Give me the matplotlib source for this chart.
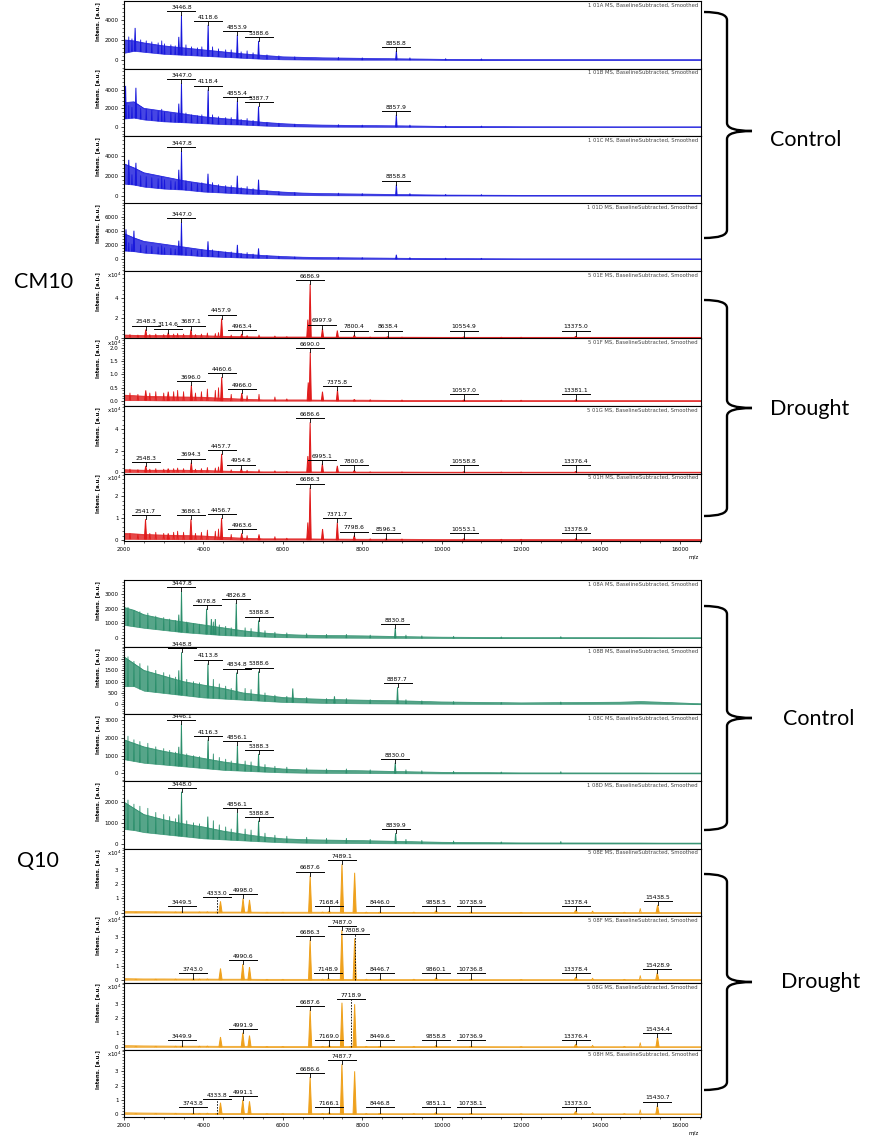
import numpy as np
import matplotlib.pyplot as plt
from matplotlib.path import Path
from matplotlib.patches import PathPatch
from matplotlib.ticker import AutoMinorLocator, MultipleLocator

W, H = 877, 1141
MZ_MIN, MZ_MAX = 2000, 16530

# ---- data -------------------------------------------------------------
env_mz = [2000, 2250, 2500, 3000, 3500, 4000, 4500, 5000, 5500, 6000,
          6500, 7000, 8000, 9000, 10000, 12000, 14500, 15000, 15500, 16530]

# CM10 control (blue)
cm10_ctrl_tags = ["1 01A", "1 01B", "1 01C", "1 01D"]
cm10_ctrl_ylim = [(-870, 5900), (-970, 6270), (-800, 6000), (-1700, 7860)]
cm10_ctrl_yticks = [[0, 2000, 4000], [0, 2000, 4000], [0, 2000, 4000], [0, 2000, 4000, 6000]]
cm10_ctrl_lo = [
    [700, 900, 800, 600, 500, 400, 300, 200, 100, 50, 30, 20, 10, 10, 0, 0, 0, 0, 0, 0],
    [900, 1000, 800, 600, 500, 400, 300, 250, 150, 80, 50, 30, 20, 10, 0, 0, 0, 0, 0, 0],
    [1200, 1100, 900, 700, 600, 400, 300, 200, 150, 80, 50, 30, 20, 10, 0, 0, 0, 0, 0, 0],
    [1200, 1100, 900, 700, 600, 400, 300, 200, 150, 80, 50, 30, 20, 10, 0, 0, 0, 0, 0, 0],
]
cm10_ctrl_hi = [
    [2000, 1900, 1700, 1400, 1200, 1000, 800, 600, 450, 300, 250, 200, 150, 100, 50, 20, 15, 15, 15, 15],
    [2600, 2700, 2000, 1700, 1400, 1100, 900, 700, 500, 350, 250, 200, 150, 120, 60, 25, 15, 15, 15, 15],
    [3200, 2800, 2300, 1900, 1500, 1200, 900, 700, 500, 350, 250, 200, 150, 100, 50, 20, 15, 15, 15, 15],
    [3600, 3000, 2500, 2100, 1700, 1300, 1000, 700, 500, 350, 250, 200, 150, 100, 60, 25, 20, 20, 20, 20],
]
cm10_ctrl_minor = [(2120, 2300), (2200, 2100), (2420, 2000), (2560, 1900), (2700, 1800), (2860, 1700),
                   (2950, 1900), (3020, 1600), (3180, 1500), (3290, 1400), (3560, 1500), (3700, 1300),
                   (3850, 1200), (3960, 1300), (4230, 1300), (4380, 1100), (4560, 1000), (4700, 1000),
                   (4950, 800), (5100, 900), (5250, 700), (5600, 500), (5900, 400), (6300, 300),
                   (7400, 250), (8000, 200), (9200, 200), (10100, 120), (11000, 100)]
p_101A = [(2280, 3200, None), (3380, 2300, None), (3446.8, 4500, "3446.8"), (4118.6, 3500, "4118.6"),
          (4853.9, 2500, "4853.9"), (5388.6, 1900, "5388.6"), (8858.8, 900, "8858.8")]
p_101B = [(2040, 4400, None), (2300, 4200, None), (3380, 2500, None), (3447.0, 4700, "3447.0"),
          (4118.4, 4000, "4118.4"), (4855.4, 2800, "4855.4"), (5387.7, 2200, "5387.7"), (8857.9, 1300, "8857.9")]
p_101C = [(2120, 3600, None), (2300, 3300, None), (3380, 2600, None), (3447.8, 4500, "3447.8"),
          (4115, 2200, None), (4853, 2000, None), (5388, 1600, None), (8858.8, 1100, "8858.8")]
p_101D = [(2050, 4200, None), (2250, 4000, None), (3380, 2600, None), (3447.0, 5200, "3447.0"),
          (4115, 2500, None), (4855, 2000, None), (5388, 1500, None), (8858, 600, None)]
cm10_ctrl_peaks = [p_101A, p_101B, p_101C, p_101D]

# CM10 drought (red), x10^4
cm10_dr_tags = ["5 01E", "5 01F", "5 01G", "5 01H"]
cm10_dr_ylim = [(-0.1, 6.7), (-0.19, 2.36), (-0.1, 6.1), (-0.05, 3.05)]
cm10_dr_yticks = [[0, 2, 4], [0, 0.5, 1.0, 1.5, 2.0], [0, 2, 4], [0, 1, 2]]
cm10_dr_lo = [
    [0.04, 0.04, 0.03, 0.03, 0.03, 0.02, 0.02, 0.01, 0.01, 0.01, 0.01, 0.01, 0, 0, 0, 0, 0, 0, 0, 0],
    [0.03, 0.03, 0.03, 0.02, 0.02, 0.02, 0.01, 0.01, 0.01, 0.01, 0.01, 0.01, 0, 0, 0, 0, 0, 0, 0, 0],
    [0.04, 0.04, 0.03, 0.03, 0.03, 0.02, 0.02, 0.01, 0.01, 0.01, 0.01, 0.01, 0, 0, 0, 0, 0, 0, 0, 0],
    [0.05, 0.05, 0.04, 0.04, 0.03, 0.03, 0.02, 0.01, 0.01, 0.01, 0.01, 0.01, 0, 0, 0, 0, 0, 0, 0, 0],
]
cm10_dr_hi = [
    [0.25, 0.22, 0.2, 0.2, 0.2, 0.18, 0.12, 0.08, 0.05, 0.05, 0.05, 0.04, 0.03, 0.03, 0.02, 0.02, 0.02, 0.02, 0.02, 0.02],
    [0.22, 0.2, 0.18, 0.16, 0.15, 0.14, 0.1, 0.07, 0.04, 0.04, 0.04, 0.03, 0.03, 0.02, 0.02, 0.015, 0.015, 0.015, 0.015, 0.015],
    [0.25, 0.22, 0.2, 0.2, 0.2, 0.18, 0.12, 0.08, 0.05, 0.05, 0.05, 0.04, 0.03, 0.03, 0.02, 0.02, 0.02, 0.02, 0.02, 0.02],
    [0.3, 0.28, 0.25, 0.22, 0.2, 0.18, 0.12, 0.08, 0.05, 0.05, 0.05, 0.04, 0.03, 0.03, 0.02, 0.02, 0.02, 0.02, 0.02, 0.02],
]
cm10_dr_minor = [(2150, 0.3), (2350, 0.25), (2650, 0.3), (2800, 0.35), (3000, 0.3), (3250, 0.35),
                 (3350, 0.4), (3500, 0.35), (3800, 0.3), (3950, 0.35), (4100, 0.45), (4300, 0.4),
                 (4380, 0.5), (4700, 0.25), (5100, 0.2), (5400, 0.25), (5800, 0.15), (6100, 0.08),
                 (8200, 0.05), (9000, 0.04), (11500, 0.03), (12000, 0.03)]
p_501E = [(2548.3, 0.8, "2548.3"), (3114.6, 0.5, "3114.6"), (3687.1, 0.8, "3687.1"), (4457.9, 1.9, "4457.9"),
          (4963.4, 0.35, "4963.4"), (6630, 1.8, None), (6686.9, 5.4, "6686.9"), (6997.9, 0.9, "6997.9"),
          (7372, 0.7, None), (7800.4, 0.25, "7800.4"), (8638.4, 0.08, "8638.4"), (10554.9, 0.05, "10554.9"),
          (13375.0, 0.12, "13375.0")]
p_501F = [(2548, 0.4, None), (3114, 0.35, None), (3696.0, 0.6, "3696.0"), (4460.6, 0.9, "4460.6"),
          (4966.0, 0.3, "4966.0"), (6640, 0.7, None), (6690.0, 1.85, "6690.0"), (6998, 0.35, None),
          (7375.8, 0.42, "7375.8"), (7800, 0.06, None), (10557.0, 0.04, "10557.0"), (13381.1, 0.05, "13381.1")]
p_501G = [(2548.3, 0.6, "2548.3"), (3114, 0.35, None), (3694.3, 0.9, "3694.3"), (4457.7, 1.7, "4457.7"),
          (4954.8, 0.35, "4954.8"), (6630, 1.5, None), (6686.6, 4.6, "6686.6"), (6995.1, 0.8, "6995.1"),
          (7372, 0.6, None), (7800.6, 0.2, "7800.6"), (10558.8, 0.05, "10558.8"), (13376.4, 0.08, "13376.4")]
p_501H = [(2541.7, 0.95, "2541.7"), (3114, 0.3, None), (3686.1, 0.95, "3686.1"), (4456.7, 1.0, "4456.7"),
          (4963.6, 0.3, "4963.6"), (5400, 0.2, None), (6630, 0.8, None), (6686.3, 2.4, "6686.3"),
          (7000, 0.5, None), (7371.7, 0.8, "7371.7"), (7798.6, 0.2, "7798.6"), (8596.3, 0.05, "8596.3"),
          (10553.1, 0.05, "10553.1"), (13378.9, 0.06, "13378.9")]
cm10_dr_peaks = [p_501E, p_501F, p_501G, p_501H]

# Q10 control (green)
q10_ctrl_tags = ["1 08A", "1 08B", "1 08C", "1 08D"]
q10_ctrl_ylim = [(-620, 3970), (-444, 2530), (-450, 3340), (-240, 3000)]
q10_ctrl_yticks = [[0, 1000, 2000, 3000], [0, 500, 1000, 1500, 2000], [0, 1000, 2000, 3000], [0, 1000, 2000]]
q10_ctrl_lo = [
    [900, 800, 700, 550, 400, 300, 200, 150, 100, 60, 40, 30, 20, 10, 0, 0, 0, 0, 0, 0],
    [800, 800, 600, 500, 400, 300, 250, 200, 150, 100, 80, 60, 40, 30, 20, 10, 20, 30, 20, 0],
    [800, 700, 600, 500, 400, 300, 200, 150, 100, 60, 40, 30, 20, 10, 0, 0, 0, 0, 0, 0],
    [700, 650, 550, 450, 350, 250, 200, 150, 100, 60, 40, 30, 20, 10, 0, 0, 0, 0, 0, 0],
]
q10_ctrl_hi = [
    [2100, 1900, 1600, 1300, 1100, 900, 700, 500, 350, 250, 200, 180, 150, 100, 60, 30, 25, 25, 20, 20],
    [2100, 1800, 1500, 1250, 1000, 850, 700, 500, 400, 300, 250, 220, 180, 150, 100, 60, 90, 120, 90, 20],
    [1900, 1700, 1500, 1250, 1050, 850, 650, 500, 350, 250, 200, 180, 150, 100, 60, 30, 25, 25, 20, 20],
    [2000, 1700, 1400, 1150, 950, 800, 600, 450, 320, 230, 190, 170, 140, 100, 60, 30, 25, 25, 20, 20],
]
q10_ctrl_minor = [(2100, 2100), (2250, 1900), (2400, 1800), (2600, 1700), (2800, 1500), (3000, 1400),
                  (3150, 1300), (3300, 1200), (3580, 1100), (3750, 1000), (3900, 950), (4250, 1100),
                  (4400, 900), (4560, 800), (4700, 700), (5050, 700), (5200, 650), (5550, 500),
                  (5800, 400), (6100, 350), (6600, 300), (7100, 250), (7600, 250), (8200, 200),
                  (9100, 200), (9500, 150), (10300, 120), (11500, 80), (13000, 100)]
p_108A = [(3380, 1600, None), (3447.8, 3200, "3447.8"), (3600, 1000, None), (4078.8, 2000, "4078.8"),
          (4200, 1300, None), (4300, 1300, None), (4826.8, 2400, "4826.8"), (5388.8, 1200, "5388.8"),
          (8830.8, 700, "8830.8")]
p_108B = [(3380, 1500, None), (3448.8, 2300, "3448.8"), (4113.8, 1800, "4113.8"), (4834.8, 1400, "4834.8"),
          (5388.6, 1450, "5388.6"), (6250, 700, None), (7300, 350, None), (8887.7, 750, "8887.7")]
p_108C = [(3380, 1500, None), (3446.1, 2800, "3446.1"), (4116.3, 1900, "4116.3"), (4856.1, 1600, "4856.1"),
          (5388.3, 1100, "5388.3"), (8830.0, 600, "8830.0")]
p_108D = [(3380, 1400, None), (3448.0, 2500, "3448.0"), (4110, 1300, None), (4856.1, 1500, "4856.1"),
          (5388.8, 1100, "5388.8"), (8839.9, 500, "8839.9")]
q10_ctrl_peaks = [p_108A, p_108B, p_108C, p_108D]

# Q10 drought (orange), x10^4
q10_dr_tags = ["5 08E", "5 08F", "5 08G", "5 08H"]
q10_dr_ylim = [(-0.2, 4.5), (-0.2, 4.5), (-0.2, 4.5), (-0.2, 4.5)]
q10_dr_yticks = [[0, 1, 2, 3], [0, 1, 2, 3], [0, 1, 2, 3], [0, 1, 2, 3]]
q10_dr_lo = [
    [0.01, 0.01, 0.01, 0.01, 0.01, 0.01, 0.01, 0.01, 0, 0, 0, 0, 0, 0, 0, 0, 0, 0, 0, 0],
    [0.01, 0.01, 0.01, 0.01, 0.01, 0.01, 0.01, 0.01, 0, 0, 0, 0, 0, 0, 0, 0, 0, 0, 0, 0],
    [0.01, 0.01, 0.01, 0.01, 0.01, 0.01, 0.01, 0.01, 0, 0, 0, 0, 0, 0, 0, 0, 0, 0, 0, 0],
    [0.01, 0.01, 0.01, 0.01, 0.01, 0.01, 0.01, 0.01, 0, 0, 0, 0, 0, 0, 0, 0, 0, 0, 0, 0],
]
q10_dr_hi = [
    [0.1, 0.09, 0.08, 0.07, 0.06, 0.06, 0.05, 0.05, 0.04, 0.04, 0.04, 0.04, 0.03, 0.03, 0.03, 0.02, 0.02, 0.02, 0.02, 0.02],
    [0.09, 0.08, 0.07, 0.07, 0.06, 0.06, 0.05, 0.05, 0.04, 0.04, 0.04, 0.04, 0.03, 0.03, 0.03, 0.02, 0.02, 0.02, 0.02, 0.02],
    [0.1, 0.09, 0.08, 0.07, 0.06, 0.06, 0.05, 0.05, 0.04, 0.04, 0.04, 0.04, 0.03, 0.03, 0.03, 0.02, 0.02, 0.02, 0.02, 0.02],
    [0.1, 0.09, 0.08, 0.07, 0.06, 0.06, 0.05, 0.05, 0.04, 0.04, 0.04, 0.04, 0.03, 0.03, 0.03, 0.02, 0.02, 0.02, 0.02, 0.02],
]
q10_dr_minor = [(2300, 0.05), (2800, 0.05), (3300, 0.06), (3900, 0.06), (4100, 0.07), (5600, 0.04),
                (6000, 0.04), (7000, 0.05), (8100, 0.05), (9300, 0.05), (12000, 0.03), (13800, 0.12),
                (14600, 0.04), (15000, 0.3)]
p_508E = [(3449.5, 0.05, "3449.5"), (4333.0, 0.05, "4333.0", True), (4430, 0.8, None), (4998.0, 1.0, "4998.0"),
          (5160, 0.9, None), (6687.6, 2.6, "6687.6"), (7168.4, 0.1, "7168.4"), (7489.1, 3.4, "7489.1"),
          (7808, 2.8, None), (8446.0, 0.05, "8446.0"), (9858.5, 0.15, "9858.5"), (10738.9, 0.05, "10738.9"),
          (13378.4, 0.2, "13378.4"), (15438.5, 0.55, "15438.5")]
p_508F = [(3743.0, 0.05, "3743.0"), (4430, 0.8, None), (4990.6, 1.1, "4990.6"), (5160, 0.9, None),
          (6686.3, 2.8, "6686.3"), (7148.9, 0.1, "7148.9"), (7487.0, 3.5, "7487.0"), (7808.9, 2.9, "7808.9", True),
          (8446.7, 0.05, "8446.7"), (9860.1, 0.15, "9860.1"), (10736.8, 0.05, "10736.8"),
          (13378.4, 0.2, "13378.4"), (15428.9, 0.5, "15428.9")]
p_508G = [(3449.9, 0.05, "3449.9"), (4430, 0.7, None), (4991.9, 1.0, "4991.9"), (5160, 0.8, None),
          (6687.6, 2.6, "6687.6"), (7169.0, 0.1, "7169.0"), (7489, 3.1, None), (7718.9, 0.05, "7718.9", True),
          (7808, 3.0, None), (8449.6, 0.05, "8449.6"), (9858.8, 0.1, "9858.8"), (10736.9, 0.05, "10736.9"),
          (13376.4, 0.2, "13376.4"), (15434.4, 0.7, "15434.4")]
p_508H = [(3743.8, 0.05, "3743.8"), (4333.8, 0.05, "4333.8", True), (4430, 0.8, None), (4991.1, 1.0, "4991.1"),
          (5160, 0.9, None), (6686.6, 2.6, "6686.6"), (7166.1, 0.1, "7166.1"), (7487.7, 3.5, "7487.7"),
          (7808, 3.0, None), (8446.8, 0.05, "8446.8"), (9851.1, 0.1, "9851.1"), (10738.1, 0.05, "10738.1"),
          (13373.0, 0.2, "13373.0"), (15430.7, 0.6, "15430.7")]
q10_dr_peaks = [p_508E, p_508F, p_508G, p_508H]

# ---- drawing ------------------------------------------------------------
AX_L, AX_R = 124, 701
AX_W = AX_R - AX_L
BLOCKS = [(1, 541), (580, 1117)]

fig = plt.figure(figsize=(W / 100, H / 100), dpi=100)


def draw_panel(ax, tag, ylim, yticks, lo, hi, minor, peaks, color, hw, x10, panel_h):
    ax.set_xlim(MZ_MIN, MZ_MAX)
    ax.set_ylim(*ylim)
    upx = (ylim[1] - ylim[0]) / panel_h
    xpx = (MZ_MAX - MZ_MIN) / AX_W

    # noise band, then the spikes on top of it
    ax.fill_between(env_mz, lo, hi, color=color, lw=0.5, alpha=0.8)
    ax.plot(env_mz, hi, color=color, lw=0.5)
    for mz, h in minor:
        b = np.interp(mz, env_mz, lo)
        ax.plot([mz - hw * 0.6, mz, mz + hw * 0.6], [b, h, b], color=color, lw=0.6)
    for p in peaks:
        mz, h = p[0], p[1]
        b = np.interp(mz, env_mz, lo)
        ax.fill([mz - hw, mz, mz + hw], [b, h, b], color=color, lw=0.7)

    # peak labels
    for p in peaks:
        mz, h, lab = p[0], p[1], p[2]
        if lab is None:
            continue
        dashed = len(p) > 3 and p[3]
        win = 250 if dashed else 60
        top = max(q[1] for q in peaks if abs(q[0] - mz) <= win)
        ybar = max(top + 4 * upx, 7 * upx)
        ax.plot([mz, mz], [0 if dashed else h, ybar], color='k', lw=0.6,
                ls=(0, (2, 1.5)) if dashed else '-')
        ax.plot([mz - 14 * xpx, mz + 14 * xpx], [ybar, ybar], color='k', lw=0.7)
        ax.text(mz, ybar + 1.2 * upx, lab, ha='center', va='bottom', fontsize=4.3)

    ax.text(0.995, 0.975, tag + " MS, BaselineSubtracted, Smoothed", transform=ax.transAxes,
            ha='right', va='top', fontsize=3.8, color='#444444')

    ax.set_yticks(yticks)
    if any(t != int(t) for t in yticks):
        ax.set_yticklabels(["%.1f" % t for t in yticks])
    else:
        ax.set_yticklabels([str(int(t)) for t in yticks])
    ax.yaxis.set_minor_locator(AutoMinorLocator(5))
    ax.tick_params(axis='y', which='major', length=2.5, width=0.5, labelsize=4, pad=1.5)
    ax.tick_params(axis='y', which='minor', length=1.3, width=0.4)
    ax.set_ylabel("Intens. [a.u.]", fontsize=3.8, fontweight='bold')
    ax.yaxis.set_label_coords(-0.042, 0.7)
    if x10:
        ax.text(-0.004, 1.0, "x10$^4$", transform=ax.transAxes, ha='right', va='top', fontsize=4)
    for s in ax.spines.values():
        s.set_linewidth(0.8)


groups = [
    (cm10_ctrl_tags, cm10_ctrl_ylim, cm10_ctrl_yticks, cm10_ctrl_lo, cm10_ctrl_hi, cm10_ctrl_minor,
     cm10_ctrl_peaks, '#1818DC', 18, False),
    (cm10_dr_tags, cm10_dr_ylim, cm10_dr_yticks, cm10_dr_lo, cm10_dr_hi, cm10_dr_minor,
     cm10_dr_peaks, '#E01A1A', 28, True),
    (q10_ctrl_tags, q10_ctrl_ylim, q10_ctrl_yticks, q10_ctrl_lo, q10_ctrl_hi, q10_ctrl_minor,
     q10_ctrl_peaks, '#2C8F6C', 18, False),
    (q10_dr_tags, q10_dr_ylim, q10_dr_yticks, q10_dr_lo, q10_dr_hi, q10_dr_minor,
     q10_dr_peaks, '#EFA11C', 40, True),
]

for bi, (ytop, ybot) in enumerate(BLOCKS):
    ph = (ybot - ytop) / 8
    axes = []
    for gi in range(2):
        tags, ylims, yticks, los, his, minor, peaks, color, hw, x10 = groups[bi * 2 + gi]
        for k in range(4):
            i = gi * 4 + k
            y0 = ytop + (i + 1) * ph
            ax = fig.add_axes([AX_L / W, 1 - y0 / H, AX_W / W, ph / H])
            draw_panel(ax, tags[k], ylims[k], yticks[k], los[k], his[k], minor, peaks[k],
                       color, hw, x10, ph)
            axes.append(ax)
    for ax in axes[:-1]:
        ax.tick_params(axis='x', which='both', bottom=False, labelbottom=False)
    last = axes[-1]
    last.xaxis.set_major_locator(MultipleLocator(2000))
    last.xaxis.set_minor_locator(MultipleLocator(500))
    last.tick_params(axis='x', which='major', length=2.5, width=0.5, labelsize=4, pad=1.5)
    last.tick_params(axis='x', which='minor', length=1.3, width=0.4)
    last.text(0.988, -0.2, "m/z", transform=last.transAxes, ha='center', va='top', fontsize=4)


def brace(ytop, ybot, ytip, x0=704, x1=727, x2=752, r=8):
    P = lambda x, y: (x / W, 1 - y / H)
    verts = [P(x0, ytop), P(x1, ytop), P(x1, ytop + r),
             P(x1, ytip - r), P(x1, ytip), P(x2, ytip),
             P(x1, ytip), P(x1, ytip + r),
             P(x1, ybot - r), P(x1, ybot), P(x0, ybot)]
    codes = [Path.MOVETO, Path.CURVE3, Path.CURVE3, Path.LINETO, Path.CURVE3, Path.CURVE3,
             Path.CURVE3, Path.CURVE3, Path.LINETO, Path.CURVE3, Path.CURVE3]
    fig.add_artist(PathPatch(Path(verts, codes), transform=fig.transFigure,
                             fill=False, lw=1.7, color='black'))


side_font = dict(fontsize=15.5, family=['Lato', 'DejaVu Sans'], ha='center', va='center')
brace(12, 238, 131)
brace(300, 516, 408)
brace(606, 830, 718)
brace(874, 1090, 982)
fig.text(806 / W, 1 - 140 / H, "Control", **side_font)
fig.text(810 / W, 1 - 409 / H, "Drought", **side_font)
fig.text(819 / W, 1 - 719 / H, "Control", **side_font)
fig.text(821 / W, 1 - 982 / H, "Drought", **side_font)
fig.text(44 / W, 1 - 282 / H, "CM10", **side_font)
fig.text(38 / W, 1 - 861 / H, "Q10", **side_font)

fig.savefig("out.png", dpi=100)
